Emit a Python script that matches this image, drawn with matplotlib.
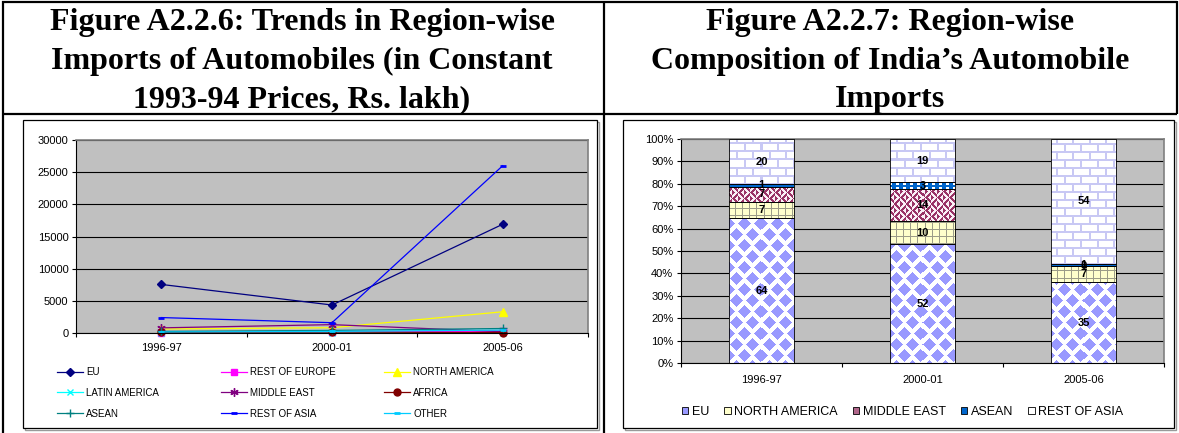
import numpy as np
import matplotlib
matplotlib.use('Agg')
import matplotlib.pyplot as plt
from matplotlib.patches import Rectangle, Patch
from matplotlib.ticker import FuncFormatter

# ---------------- data ----------------
years = ['1996-97', '2000-01', '2005-06']

# Figure A2.2.6: imports in constant 1993-94 prices (Rs. lakh)
eu = [7550, 4350, 16900]
rest_of_europe = [60, 120, 300]
north_america = [620, 820, 3300]
latin_america = [20, 30, 60]
middle_east = [800, 1300, 200]
africa = [100, 150, 60]
asean = [250, 400, 700]
rest_of_asia = [2400, 1600, 26000]
other = [150, 250, 450]

line_series = ['EU', 'REST OF EUROPE', 'NORTH AMERICA', 'LATIN AMERICA', 'MIDDLE EAST',
               'AFRICA', 'ASEAN', 'REST OF ASIA', 'OTHER']
line_values = [eu, rest_of_europe, north_america, latin_america, middle_east,
               africa, asean, rest_of_asia, other]

# Figure A2.2.7: composition (%)
share_eu = [64, 52, 35]
share_na = [7, 10, 7]
share_me = [7, 14, 0]
share_asean = [1, 3, 1]
share_roa = [20, 19, 54]
bar_series = ['EU', 'NORTH AMERICA', 'MIDDLE EAST', 'ASEAN', 'REST OF ASIA']
bar_values = [share_eu, share_na, share_me, share_asean, share_roa]

# ---------------- styles ----------------
line_styles = {
    'EU': dict(color='#000080', marker='D', ms=4.5),
    'REST OF EUROPE': dict(color='#FF00FF', marker='s', ms=4.5),
    'NORTH AMERICA': dict(color='#FFFF00', marker='^', ms=6),
    'LATIN AMERICA': dict(color='#00FFFF', marker='x', ms=5),
    'MIDDLE EAST': dict(color='#800080', marker=(6, 2, 0), ms=6),
    'AFRICA': dict(color='#800000', marker='o', ms=5),
    'ASEAN': dict(color='#008080', marker='+', ms=6),
    'REST OF ASIA': dict(color='#0000FF', marker='_', ms=5, mew=2),
    'OTHER': dict(color='#00CCFF', marker='_', ms=5, mew=2),
}
bar_kinds = ['diamond', 'grid', 'weave', 'dash', 'brick']
legend_face = ['#9999FF', '#FFFFCC', '#B0668A', '#0066CC', '#FFFFFF']

W, H = 1179, 433
plt.rcParams['font.family'] = ['Liberation Sans', 'DejaVu Sans']
fig = plt.figure(figsize=(W / 100, H / 100), dpi=100)
fig.patch.set_facecolor('white')


def px_axes(x0, y0, x1, y1, **kw):
    return fig.add_axes([x0 / W, 1 - y1 / H, (x1 - x0) / W, (y1 - y0) / H], **kw)


# ---------------- frame / headers ----------------
bg = px_axes(0, 0, W, H, zorder=0)
bg.set_xlim(0, W)
bg.set_ylim(H, 0)
bg.axis('off')
lw_tab = 1.6
for (xa, ya, xb, yb) in [(2, 1.5, 1177, 1.5), (2.5, 1, 2.5, H), (2, 114, 1177, 114),
                         (604, 1, 604, H), (1176.5, 1, 1176.5, 114)]:
    bg.plot([xa, xb], [ya, yb], color='black', lw=lw_tab, solid_capstyle='butt')
for (x0, y0, x1, y1) in [(23, 120, 597, 428), (623, 120, 1174, 428)]:
    bg.add_patch(Rectangle((x0 + 1.5, y0 + 1.5), x1 - x0, y1 - y0, facecolor='none',
                           edgecolor='#9a9a9a', lw=1.0))
    bg.add_patch(Rectangle((x0, y0), x1 - x0, y1 - y0, facecolor='white',
                           edgecolor='black', lw=0.9))

title_kw = dict(ha='center', va='center', fontsize=23, fontweight='bold',
                family=['Liberation Serif', 'DejaVu Serif'], linespacing=1.44)
bg.text(302, 61, 'Figure A2.2.6: Trends in Region-wise\nImports of Automobiles (in Constant\n1993-94 Prices, Rs. lakh)', **title_kw)
bg.text(890, 61, 'Figure A2.2.7: Region-wise\nComposition of India\u2019s Automobile\nImports', **title_kw)

PLOT_BG = '#C0C0C0'


def style_axes(ax):
    ax.set_facecolor(PLOT_BG)
    for s in ('top', 'right'):
        ax.spines[s].set_color('#808080')
        ax.spines[s].set_linewidth(1.2)
    for s in ('left', 'bottom'):
        ax.spines[s].set_color('black')
        ax.spines[s].set_linewidth(0.8)
    ax.set_axisbelow(True)
    ax.yaxis.grid(True, color='black', linewidth=0.8)
    ax.set_xlim(-0.5, len(years) - 0.5)
    ax.set_xticks(range(len(years)))
    ax.set_xticklabels(years)
    ax.set_xticks(np.arange(-0.5, len(years), 1.0), minor=True)
    ax.tick_params(axis='x', which='major', length=0, labelsize=8)
    ax.tick_params(axis='x', which='minor', length=3, width=0.8, direction='out')
    ax.tick_params(axis='y', length=3, width=0.8, direction='out', labelsize=8, pad=2.5)


# ---------------- left chart: lines ----------------
axL = px_axes(76, 140, 588, 333, zorder=1)
style_axes(axL)
xs = np.arange(len(years))
handles = {}
for name, vals in zip(line_series, line_values):
    st = dict(line_styles[name])
    mew = st.pop('mew', 1.0)
    h, = axL.plot(xs, vals, lw=0.9, mew=mew, mfc=st['color'], mec=st['color'], **st,
                  label=name, clip_on=False)
    handles[name] = h
axL.set_ylim(0, 30000)
axL.set_yticks(np.arange(0, 30001, 5000))
axL.tick_params(axis='x', which='major', pad=7)

# legend: three columns placed like the original (row-major order)
col_x = [57, 221, 384]
for c in range(3):
    names = [line_series[r * 3 + c] for r in range(3)]
    fig.legend([handles[n] for n in names], names, ncol=1, loc='upper left',
               bbox_to_anchor=(col_x[c] / W, 1 - 367 / H), frameon=False, fontsize=7,
               handlelength=2.7, handletextpad=0.3, labelspacing=1.12,
               borderaxespad=0, borderpad=0)

# ---------------- right chart: 100% stacked bars ----------------
axR = px_axes(681, 139, 1164, 363, zorder=1)
style_axes(axR)
axR.set_ylim(0, 100)
axR.set_yticks(np.arange(0, 101, 10))
axR.yaxis.set_major_formatter(FuncFormatter(lambda v, p: f'{int(v)}%'))
axR.tick_params(axis='x', which='major', pad=8.5)

totals = np.sum(np.array(bar_values, dtype=float), axis=0)
pct = [np.array(v, dtype=float) / totals * 100 for v in bar_values]


def hexrgb(h):
    h = h.lstrip('#')
    return np.array([int(h[i:i + 2], 16) / 255 for i in (0, 2, 4)])


def pattern(kind, X, Y):
    img = np.ones(X.shape + (3,))
    if kind == 'diamond':
        px, py = 16, 22
        dx1 = (X % px) - px / 2
        dy1 = (Y % py) - py / 2
        dx2 = ((X + px / 2) % px) - px / 2
        dy2 = ((Y + py / 2) % py) - py / 2
        a = 6.3
        m = (np.abs(dx1) + np.abs(dy1) < a) | (np.abs(dx2) + np.abs(dy2) < a)
        img[m] = hexrgb('#9999FF')
    elif kind == 'grid':
        img[:] = hexrgb('#FFFFCC')
        m = (X % 7 == 0) | (Y % 7 == 0)
        img[m] = hexrgb('#9C9C88')
    elif kind == 'weave':
        bx, by = X // 6, Y // 6
        even = ((bx + by) % 2 == 0)
        m = np.where(even, ((X + Y) % 6) < 3, ((X - Y) % 6) < 3)
        img[m] = hexrgb('#993366')
        img[~m] = hexrgb('#FAF0F6')
    elif kind == 'dash':
        img[:] = hexrgb('#0066CC')
        m = ((X % 7) < 3) & ((Y % 4) < 2)
        img[m] = hexrgb('#FFFFFF')
    elif kind == 'brick':
        row = Y // 8
        yy = Y % 8
        xx = (X + (row % 2) * 8) % 16
        m = (yy < 2) | (xx < 2)
        img[m] = hexrgb('#C8C8F4')
    return img


bw = 0.4
bottom = np.zeros(len(years))
bar_containers = []
for name, vals, kind in zip(bar_series, pct, bar_kinds):
    bc = axR.bar(xs, vals, bw, bottom=bottom, facecolor='none', edgecolor='black',
                 linewidth=0.6, zorder=3)
    bar_containers.append((bc, kind))
    bottom = bottom + vals

fig.canvas.draw()
for bc, kind in bar_containers:
    for rect in bc.patches:
        x0, y0 = rect.get_x(), rect.get_y()
        w, h = rect.get_width(), rect.get_height()
        if h <= 0:
            continue
        dx0, dy0 = axR.transData.transform((x0, y0))
        dx1, dy1 = axR.transData.transform((x0 + w, y0 + h))
        nx = max(int(round(dx1 - dx0)), 1)
        ny = max(int(round(dy1 - dy0)), 1)
        X, Y = np.meshgrid(np.arange(nx) + int(round(dx0)), np.arange(ny) + int(round(dy0)))
        img = pattern(kind, X, Y)
        axR.imshow(img, extent=[x0, x0 + w, y0, y0 + h], origin='lower',
                   interpolation='nearest', aspect='auto', zorder=2.5)
axR.set_xlim(-0.5, len(years) - 0.5)
axR.set_ylim(0, 100)

# data labels
bottom = np.zeros(len(years))
for vals, raw in zip(pct, bar_values):
    for i in range(len(years)):
        axR.text(xs[i], bottom[i] + vals[i] / 2, f'{raw[i]}', ha='center', va='center',
                 fontsize=8, fontweight='bold', zorder=5)
    bottom = bottom + vals

leg_handles = [Patch(facecolor=c, edgecolor='black', linewidth=0.6) for c in legend_face]
fig.legend(leg_handles, bar_series, ncol=5, loc='center left', bbox_to_anchor=(682 / W, 1 - 412 / H),
           frameon=False, fontsize=9, handlelength=0.5, handleheight=0.5,
           handletextpad=0.3, columnspacing=1.2, borderaxespad=0, borderpad=0)

fig.savefig('out.png', dpi=100, facecolor='white')
